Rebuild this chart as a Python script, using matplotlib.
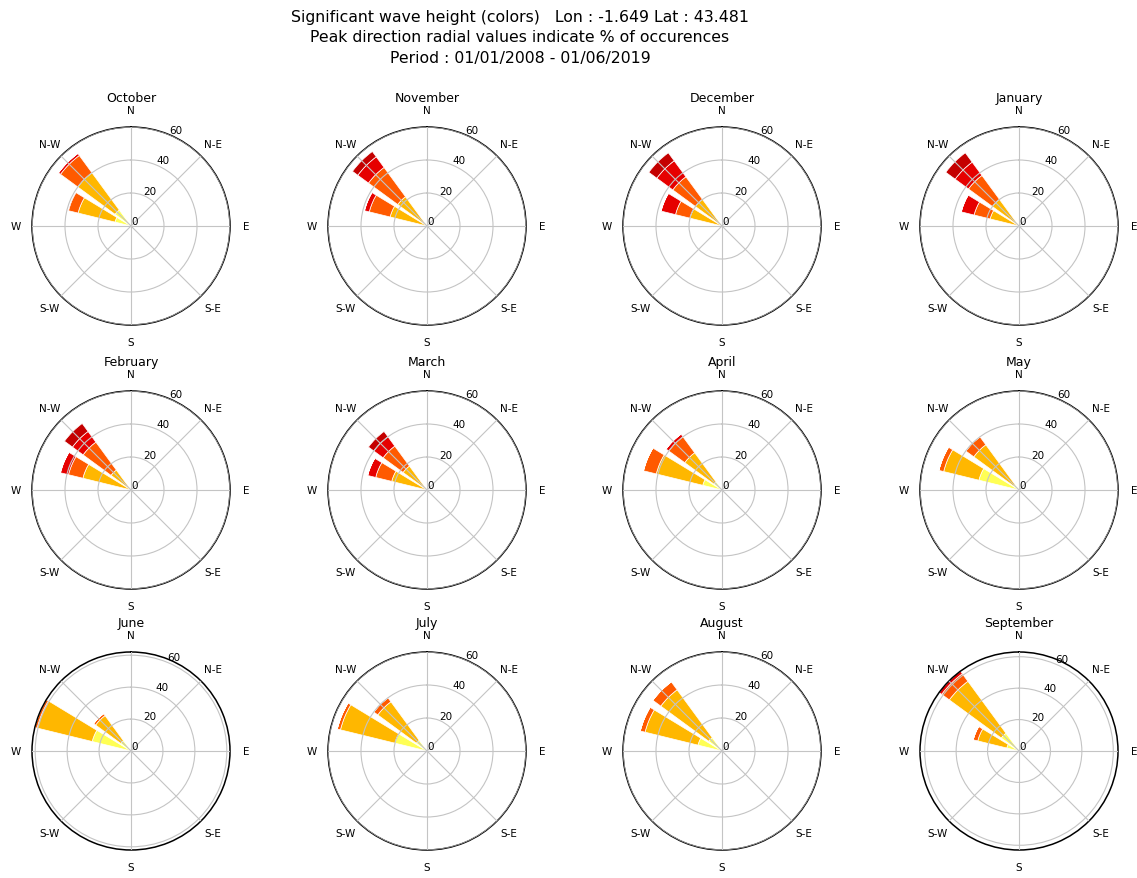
import numpy as np
import matplotlib.pyplot as plt

months = ['October', 'November', 'December', 'January',
          'February', 'March', 'April', 'May',
          'June', 'July', 'August', 'September']

# peak directions (deg from North, clockwise) that carry the waves
directions = [292.5, 315.0]

# % of occurrences per Hs class, one row per month: [WNW, NW]
hs_0_1 = [[10, 12], [1, 1], [1, 1], [1, 1],
          [1, 1], [1, 1], [12, 6], [25, 4],
          [25, 8], [20, 8], [15, 10], [8, 14]]
hs_1_2 = [[23, 28], [22, 21], [19, 19], [17, 19],
          [29, 14], [21, 17], [29, 22], [22, 30],
          [35.5, 19.5], [34, 29], [33, 36], [19, 41]]
hs_2_3 = [[6, 13], [13, 22], [9, 17], [10, 18],
          [9, 21], [10, 15], [8, 12], [3, 6],
          [1.5, 1.5], [2, 3], [3, 6], [3, 6]]
hs_3_4 = [[0.5, 1.5], [3, 8], [9, 12], [8, 10],
          [5, 8], [5, 7], [0, 2], [0, 0],
          [0, 0], [0, 0], [0, 0], [0, 2]]
hs_4_up = [[0, 0], [0, 4], [0, 6], [0, 7],
           [0, 6], [0, 4], [0, 0], [0, 0],
           [0, 0], [0, 0], [0, 0], [0, 0]]

classes = [hs_0_1, hs_1_2, hs_2_3, hs_3_4, hs_4_up]
colors = ['#ffff55', '#ffb700', '#ff5a00', '#e60000', '#c40000']

compass = ['N', 'N-E', 'E', 'S-E', 'S', 'S-W', 'W', 'N-W']

W, H = 1137, 879
fig = plt.figure(figsize=(W / 100, H / 100), dpi=100)

fig.text(520 / W, 1 - 10 / H,
         'Significant wave height (colors)   Lon : -1.649 Lat : 43.481\n'
         'Peak direction radial values indicate % of occurences\n'
         'Period : 01/01/2008 - 01/06/2019',
         ha='center', va='top', ma='center', fontsize=11.3, linespacing=1.45)

col_x = [131, 427, 722, 1019]
row_y = [227, 491, 752]
R = 99
width = np.deg2rad(17.5)
theta = np.deg2rad(directions)

for k, month in enumerate(months):
    cx = col_x[k % 4]
    cy = row_y[k // 4]
    ax = fig.add_axes([(cx - R) / W, 1 - (cy + R) / H, 2 * R / W, 2 * R / H],
                      polar=True)
    ax.set_theta_zero_location('N')
    ax.set_theta_direction(-1)

    bottom = np.zeros(len(directions))
    for cls, col in zip(classes, colors):
        vals = np.array(cls[k], dtype=float)
        ax.bar(theta, vals, width=width, bottom=bottom, color=col,
               edgecolor='white', linewidth=0.5, zorder=1)
        bottom += vals

    ax.set_ylim(0, max(60, bottom.max()))
    ax.set_yticks([0, 20, 40, 60])
    ax.set_yticklabels(['0', '20', '40', '60'], fontsize=7.5)
    ax.set_rlabel_position(22.5)
    ax.set_thetagrids(np.arange(0, 360, 45), compass, fontsize=7.5)
    ax.tick_params(axis='x', pad=1.5)
    ax.set_axisbelow(False)
    ax.grid(True, color='#c4c4c4', linewidth=0.8, zorder=2)
    ax.spines['polar'].set_color('black')
    ax.spines['polar'].set_linewidth(1.1)
    ax.set_title(month, fontsize=9, y=1.13, pad=0)

fig.savefig('out.png', dpi=100)
